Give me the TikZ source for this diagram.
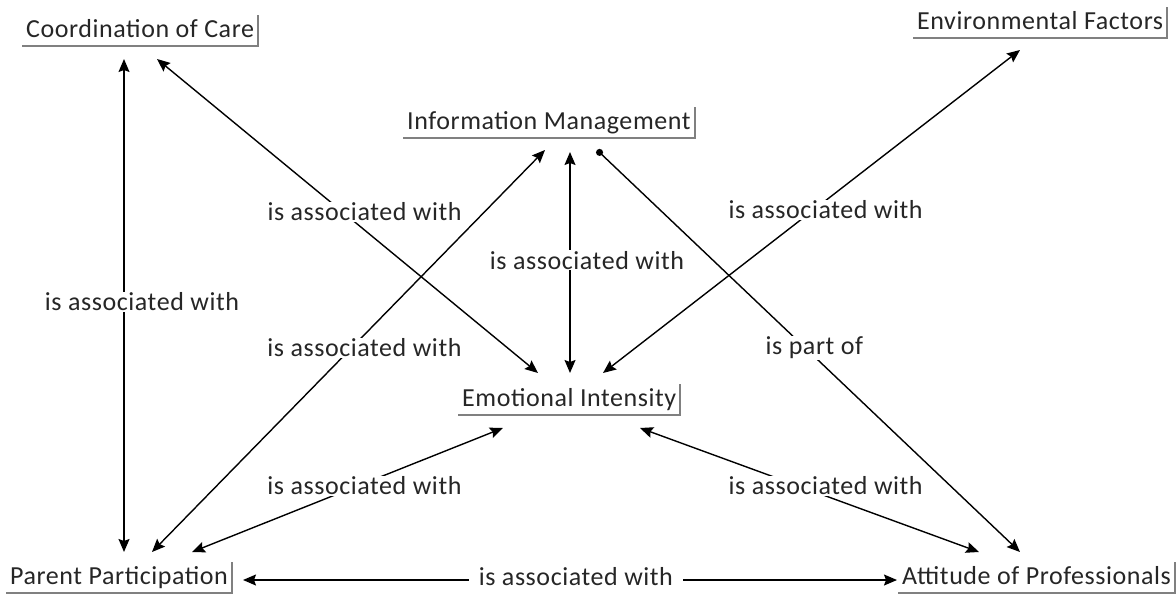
\documentclass[tikz,border=0pt]{standalone}
\usepackage{fontspec}
\setmainfont{Carlito}[LetterSpace=2.2]
\usetikzlibrary{arrows.meta}
\definecolor{inktext}{RGB}{38,38,38}
\definecolor{rulegray}{RGB}{128,128,128}
\begin{document}
\begin{tikzpicture}[x=1pt,y=-1pt,
  concept/.style={anchor=south west, inner xsep=4pt, inner ysep=2pt,
    text height=21pt, text depth=6pt, text=inktext,
    font=\fontsize{26}{30}\selectfont},
  frame/.style={draw=rulegray, line width=2pt},
  link/.style={line width=1.4pt, {Stealth[length=13pt,width=11pt,inset=2pt]}-{Stealth[length=13pt,width=11pt,inset=2pt]}},
  partof/.style={line width=1.4pt, {Circle[length=7pt]}-{Stealth[length=13pt,width=11pt,inset=2pt]}},
  lbl/.style={fill=white, inner xsep=6pt, inner ysep=1pt, text=inktext,
    font=\fontsize{26}{30}\selectfont}]
\useasboundingbox (0,0) rectangle (1176,594);

% concepts (placed by their lower left corner)
\node[concept] (coc) at (22,46)  {Coordination of Care};
\node[concept] (env) at (913,38) {Environmental Factors};
\node[concept] (im)  at (403,138) {Information Management};
\node[concept] (ei)  at (458,415) {Emotional Intensity};
\node[concept] (pp)  at (6,593)  {Parent Participation};
\node[concept] (ap)  at (898,593) {Attitude of Professionals};

% underline and right rule of each concept
\foreach \n in {coc,env,im,ei,pp,ap}
  \draw[frame] (\n.south west) -- (\n.south east) -- (\n.north east);

% links
\draw[link] ([shift={(102,13)}]coc.south west) -- ([shift={(118,-41)}]pp.south west)
  node[lbl, pos=0.493, xshift=18pt] {is associated with};
\draw[link] ([shift={(135,13)}]coc.south west) -- ([shift={(80,-42)}]ei.south west)
  node[lbl, pos=0.487, xshift=22pt] {is associated with};
\draw[link] ([shift={(142,12)}]im.south west) -- ([shift={(146,-41)}]pp.south west)
  node[lbl, pos=0.4925, xshift=13pt] {is associated with};
\draw[link] ([shift={(167,14)}]im.south west) -- ([shift={(112,-42)}]ei.south west)
  node[lbl, pos=0.489, xshift=17pt] {is associated with};
\draw[link] ([shift={(107,12)}]env.south west) -- ([shift={(145,-42)}]ei.south west)
  node[lbl, pos=0.495, xshift=12pt] {is associated with};
\draw[partof] ([shift={(194,12)}]im.south west) -- ([shift={(122,-41)}]ap.south west)
  node[lbl, pos=0.4925, xshift=9pt] {is part of};
\draw[link] ([shift={(45,13)}]ei.south west) -- ([shift={(186,-41)}]pp.south west)
  node[lbl, pos=0.468, xshift=7pt] {is associated with};
\draw[link] ([shift={(182,13)}]ei.south west) -- ([shift={(81,-41)}]ap.south west)
  node[lbl, pos=0.468, xshift=27pt] {is associated with};
\draw[link] ([shift={(237,-13)}]pp.south west) -- ([shift={(-1,-13)}]ap.south west)
  node[lbl, pos=0.509, yshift=3pt, inner xsep=10pt] {is associated with};
\end{tikzpicture}
\end{document}
